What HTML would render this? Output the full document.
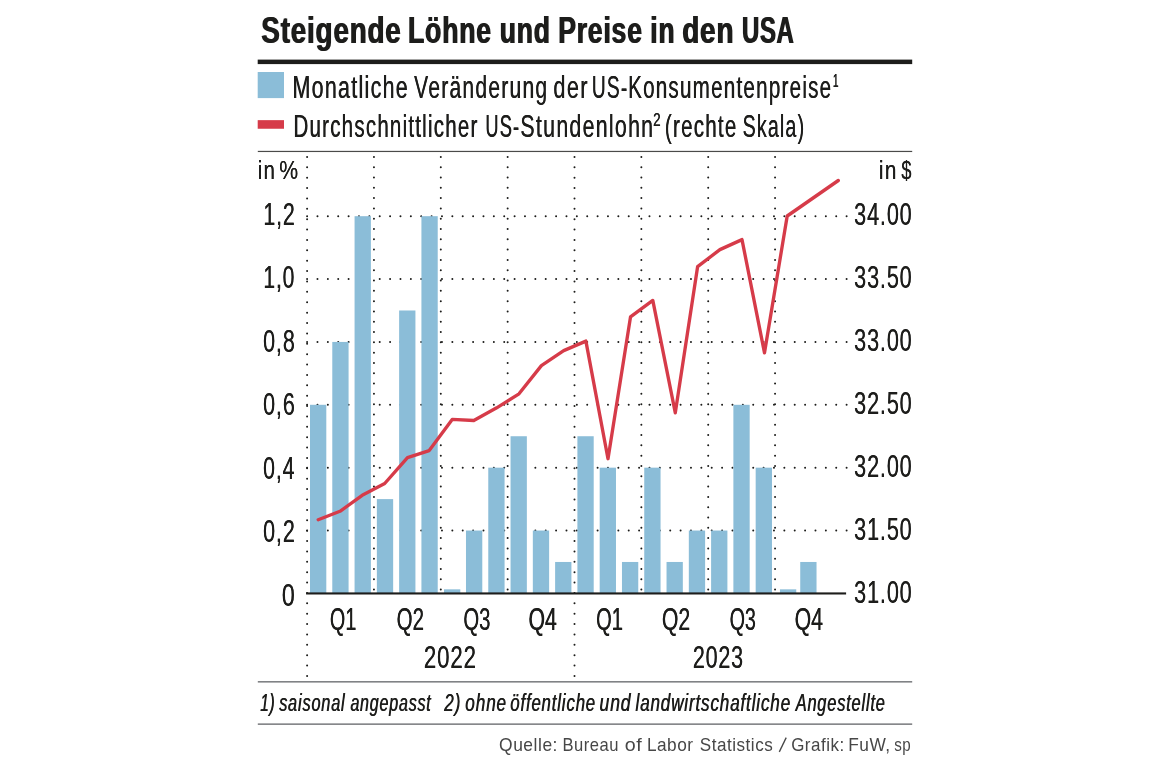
<!DOCTYPE html>
<html lang="de">
<head>
<meta charset="utf-8">
<title>Steigende Löhne und Preise in den USA</title>
<style>
html,body{margin:0;padding:0;background:#fff;}
body{width:1170px;height:759px;overflow:hidden;}
.layer{will-change:transform;width:1170px;height:759px;}
svg{display:block;font-family:"Liberation Sans",sans-serif;}
</style>
</head>
<body>
<div class="layer">
<svg width="1170" height="759" viewBox="0 0 1170 759" fill="#1d1d1b">
<text x="260.75" y="43.4" font-size="36.8" font-weight="bold" letter-spacing="0.03em" textLength="140.42" lengthAdjust="spacingAndGlyphs">Steigende</text><text aria-hidden="true" x="261.75" y="43.4" font-size="36.8" font-weight="bold" letter-spacing="0.03em" textLength="140.42" lengthAdjust="spacingAndGlyphs">Steigende</text>
<text x="407.55" y="43.4" font-size="36.8" font-weight="bold" letter-spacing="0.03em" textLength="83.93" lengthAdjust="spacingAndGlyphs">Löhne</text><text aria-hidden="true" x="408.55" y="43.4" font-size="36.8" font-weight="bold" letter-spacing="0.03em" textLength="83.93" lengthAdjust="spacingAndGlyphs">Löhne</text>
<text x="499.35" y="43.4" font-size="36.8" font-weight="bold" letter-spacing="0.03em" textLength="50.97" lengthAdjust="spacingAndGlyphs">und</text><text aria-hidden="true" x="500.35" y="43.4" font-size="36.8" font-weight="bold" letter-spacing="0.03em" textLength="50.97" lengthAdjust="spacingAndGlyphs">und</text>
<text x="557.65" y="43.4" font-size="36.8" font-weight="bold" letter-spacing="0.03em" textLength="84.59" lengthAdjust="spacingAndGlyphs">Preise</text><text aria-hidden="true" x="558.65" y="43.4" font-size="36.8" font-weight="bold" letter-spacing="0.03em" textLength="84.59" lengthAdjust="spacingAndGlyphs">Preise</text>
<text x="649.85" y="43.4" font-size="36.8" font-weight="bold" letter-spacing="0.03em" textLength="24.98" lengthAdjust="spacingAndGlyphs">in</text><text aria-hidden="true" x="650.85" y="43.4" font-size="36.8" font-weight="bold" letter-spacing="0.03em" textLength="24.98" lengthAdjust="spacingAndGlyphs">in</text>
<text x="681.65" y="43.4" font-size="36.8" font-weight="bold" letter-spacing="0.03em" textLength="52.28" lengthAdjust="spacingAndGlyphs">den</text><text aria-hidden="true" x="682.65" y="43.4" font-size="36.8" font-weight="bold" letter-spacing="0.03em" textLength="52.28" lengthAdjust="spacingAndGlyphs">den</text>
<text x="741.50" y="43.4" font-size="36.8" font-weight="bold" letter-spacing="0.03em" textLength="52.58" lengthAdjust="spacingAndGlyphs">USA</text><text aria-hidden="true" x="742.50" y="43.4" font-size="36.8" font-weight="bold" letter-spacing="0.03em" textLength="52.58" lengthAdjust="spacingAndGlyphs">USA</text>
<rect x="257.7" y="59.6" width="654.5" height="4.5" fill="#1d1d1b"/>
<rect x="257.7" y="72.0" width="26.3" height="26.1" fill="#8bbdd8"/>
<rect x="257.7" y="120.15" width="26.3" height="8.6" fill="#d63b49"/>
<text x="292.33" y="97.5" font-size="31.0" letter-spacing="0.06em" textLength="116.49" lengthAdjust="spacingAndGlyphs">Monatliche</text><text aria-hidden="true" x="292.67" y="97.5" font-size="31.0" letter-spacing="0.06em" textLength="116.49" lengthAdjust="spacingAndGlyphs">Monatliche</text>
<text x="414.03" y="97.5" font-size="31.0" letter-spacing="0.06em" textLength="134.19" lengthAdjust="spacingAndGlyphs">Veränderung</text><text aria-hidden="true" x="414.37" y="97.5" font-size="31.0" letter-spacing="0.06em" textLength="134.19" lengthAdjust="spacingAndGlyphs">Veränderung</text>
<text x="553.29" y="97.5" font-size="31.0" letter-spacing="0.06em" textLength="35.35" lengthAdjust="spacingAndGlyphs">der</text><text aria-hidden="true" x="553.62" y="97.5" font-size="31.0" letter-spacing="0.06em" textLength="35.35" lengthAdjust="spacingAndGlyphs">der</text>
<text x="591.79" y="97.5" font-size="31.0" letter-spacing="0.06em" textLength="36.42" lengthAdjust="spacingAndGlyphs">US-</text><text aria-hidden="true" x="592.12" y="97.5" font-size="31.0" letter-spacing="0.06em" textLength="36.42" lengthAdjust="spacingAndGlyphs">US-</text>
<text x="627.94" y="97.5" font-size="31.0" letter-spacing="0.06em" textLength="204.26" lengthAdjust="spacingAndGlyphs">Konsumentenpreise</text><text aria-hidden="true" x="628.26" y="97.5" font-size="31.0" letter-spacing="0.06em" textLength="204.26" lengthAdjust="spacingAndGlyphs">Konsumentenpreise</text>
<text x="832.80" y="86.8" font-size="18.6" textLength="5.71" lengthAdjust="spacingAndGlyphs">1</text><text aria-hidden="true" x="833.10" y="86.8" font-size="18.6" textLength="5.71" lengthAdjust="spacingAndGlyphs">1</text>
<text x="293.33" y="136.8" font-size="31.0" letter-spacing="0.06em" textLength="185.10" lengthAdjust="spacingAndGlyphs">Durchschnittlicher</text><text aria-hidden="true" x="293.67" y="136.8" font-size="31.0" letter-spacing="0.06em" textLength="185.10" lengthAdjust="spacingAndGlyphs">Durchschnittlicher</text>
<text x="485.28" y="136.8" font-size="31.0" letter-spacing="0.06em" textLength="34.72" lengthAdjust="spacingAndGlyphs">US-</text><text aria-hidden="true" x="485.62" y="136.8" font-size="31.0" letter-spacing="0.06em" textLength="34.72" lengthAdjust="spacingAndGlyphs">US-</text>
<text x="520.29" y="136.8" font-size="31.0" letter-spacing="0.06em" textLength="133.88" lengthAdjust="spacingAndGlyphs">Stundenlohn</text><text aria-hidden="true" x="520.62" y="136.8" font-size="31.0" letter-spacing="0.06em" textLength="133.88" lengthAdjust="spacingAndGlyphs">Stundenlohn</text>
<text x="664.74" y="136.8" font-size="31.0" letter-spacing="0.06em" textLength="72.71" lengthAdjust="spacingAndGlyphs">(rechte</text><text aria-hidden="true" x="665.06" y="136.8" font-size="31.0" letter-spacing="0.06em" textLength="72.71" lengthAdjust="spacingAndGlyphs">(rechte</text>
<text x="742.38" y="136.8" font-size="31.0" letter-spacing="0.06em" textLength="62.73" lengthAdjust="spacingAndGlyphs">Skala)</text><text aria-hidden="true" x="742.71" y="136.8" font-size="31.0" letter-spacing="0.06em" textLength="62.73" lengthAdjust="spacingAndGlyphs">Skala)</text>
<text x="652.95" y="126.2" font-size="18.6" textLength="7.51" lengthAdjust="spacingAndGlyphs">2</text><text aria-hidden="true" x="653.25" y="126.2" font-size="18.6" textLength="7.51" lengthAdjust="spacingAndGlyphs">2</text>
<rect x="257.8" y="150.85" width="654.4" height="1.2" fill="#4a4a49"/>
<line x1="307.1" y1="156.9" x2="307.1" y2="676.01" stroke="#1d1d1b" stroke-width="2" stroke-linecap="round" stroke-dasharray="0 10.3820"/>
<line x1="373.95" y1="156.9" x2="373.95" y2="589.61" stroke="#1d1d1b" stroke-width="2" stroke-linecap="round" stroke-dasharray="0 10.3024"/>
<line x1="440.8" y1="156.9" x2="440.8" y2="589.61" stroke="#1d1d1b" stroke-width="2" stroke-linecap="round" stroke-dasharray="0 10.3024"/>
<line x1="507.65" y1="156.9" x2="507.65" y2="589.61" stroke="#1d1d1b" stroke-width="2" stroke-linecap="round" stroke-dasharray="0 10.3024"/>
<line x1="574.5" y1="156.9" x2="574.5" y2="676.01" stroke="#1d1d1b" stroke-width="2" stroke-linecap="round" stroke-dasharray="0 10.3820"/>
<line x1="641.35" y1="156.9" x2="641.35" y2="589.61" stroke="#1d1d1b" stroke-width="2" stroke-linecap="round" stroke-dasharray="0 10.3024"/>
<line x1="708.2" y1="156.9" x2="708.2" y2="589.61" stroke="#1d1d1b" stroke-width="2" stroke-linecap="round" stroke-dasharray="0 10.3024"/>
<line x1="775.05" y1="156.9" x2="775.05" y2="589.61" stroke="#1d1d1b" stroke-width="2" stroke-linecap="round" stroke-dasharray="0 10.3024"/>
<line x1="307.1" y1="530.53" x2="846.61" y2="530.53" stroke="#1d1d1b" stroke-width="2" stroke-linecap="round" stroke-dasharray="0 10.3750"/>
<line x1="307.1" y1="467.66" x2="846.61" y2="467.66" stroke="#1d1d1b" stroke-width="2" stroke-linecap="round" stroke-dasharray="0 10.3750"/>
<line x1="307.1" y1="404.79" x2="846.61" y2="404.79" stroke="#1d1d1b" stroke-width="2" stroke-linecap="round" stroke-dasharray="0 10.3750"/>
<line x1="307.1" y1="341.92" x2="846.61" y2="341.92" stroke="#1d1d1b" stroke-width="2" stroke-linecap="round" stroke-dasharray="0 10.3750"/>
<line x1="307.1" y1="279.05" x2="846.61" y2="279.05" stroke="#1d1d1b" stroke-width="2" stroke-linecap="round" stroke-dasharray="0 10.3750"/>
<line x1="307.1" y1="216.18" x2="846.61" y2="216.18" stroke="#1d1d1b" stroke-width="2" stroke-linecap="round" stroke-dasharray="0 10.3750"/>
<rect x="310.00" y="404.79" width="16.3" height="188.61" fill="#8bbdd8"/>
<rect x="332.28" y="341.92" width="16.3" height="251.48" fill="#8bbdd8"/>
<rect x="354.57" y="216.18" width="16.3" height="377.22" fill="#8bbdd8"/>
<rect x="376.85" y="499.10" width="16.3" height="94.30" fill="#8bbdd8"/>
<rect x="399.13" y="310.49" width="16.3" height="282.91" fill="#8bbdd8"/>
<rect x="421.42" y="216.18" width="16.3" height="377.22" fill="#8bbdd8"/>
<rect x="444.00" y="589.34" width="16.3" height="4.06" fill="#8bbdd8"/>
<rect x="465.98" y="530.53" width="16.3" height="62.87" fill="#8bbdd8"/>
<rect x="488.27" y="467.66" width="16.3" height="125.74" fill="#8bbdd8"/>
<rect x="510.55" y="436.23" width="16.3" height="157.17" fill="#8bbdd8"/>
<rect x="532.83" y="530.53" width="16.3" height="62.87" fill="#8bbdd8"/>
<rect x="555.12" y="561.97" width="16.3" height="31.43" fill="#8bbdd8"/>
<rect x="577.40" y="436.23" width="16.3" height="157.17" fill="#8bbdd8"/>
<rect x="599.68" y="467.66" width="16.3" height="125.74" fill="#8bbdd8"/>
<rect x="621.97" y="561.97" width="16.3" height="31.43" fill="#8bbdd8"/>
<rect x="644.25" y="467.66" width="16.3" height="125.74" fill="#8bbdd8"/>
<rect x="666.53" y="561.97" width="16.3" height="31.43" fill="#8bbdd8"/>
<rect x="688.82" y="530.53" width="16.3" height="62.87" fill="#8bbdd8"/>
<rect x="711.10" y="530.53" width="16.3" height="62.87" fill="#8bbdd8"/>
<rect x="733.38" y="404.79" width="16.3" height="188.61" fill="#8bbdd8"/>
<rect x="755.67" y="467.66" width="16.3" height="125.74" fill="#8bbdd8"/>
<rect x="779.95" y="589.34" width="16.3" height="4.06" fill="#8bbdd8"/>
<rect x="800.23" y="561.97" width="16.3" height="31.43" fill="#8bbdd8"/>
<rect x="306.1" y="592.4" width="540" height="2.1" fill="#1d1d1b"/>
<polyline fill="none" stroke="#d63b49" stroke-width="3.35" stroke-linejoin="round" stroke-linecap="round" points="318.2,519.7 340.0,511.3 362.2,495.3 384.7,483.5 407.5,457.6 429.2,450.6 452.2,419.4 473.8,420.5 496.7,407.8 519.0,393.8 541.4,365.6 563.7,350.6 585.9,341.1 608.0,458.7 630.5,316.9 652.8,300.4 675.3,412.8 697.6,266.7 719.9,249.6 742.0,239.6 764.5,352.8 787.2,216.0 838.3,180.5"/>
<text x="257.65" y="178.5" font-size="25.6" letter-spacing="0.06em" textLength="18.40" lengthAdjust="spacingAndGlyphs">in</text><text aria-hidden="true" x="257.85" y="178.5" font-size="25.6" letter-spacing="0.06em" textLength="18.40" lengthAdjust="spacingAndGlyphs">in</text>
<text x="279.15" y="178.5" font-size="25.6" letter-spacing="0.06em" textLength="20.13" lengthAdjust="spacingAndGlyphs">%</text><text aria-hidden="true" x="279.35" y="178.5" font-size="25.6" letter-spacing="0.06em" textLength="20.13" lengthAdjust="spacingAndGlyphs">%</text>
<text x="878.85" y="178.5" font-size="25.6" letter-spacing="0.06em" textLength="18.59" lengthAdjust="spacingAndGlyphs">in</text><text aria-hidden="true" x="879.05" y="178.5" font-size="25.6" letter-spacing="0.06em" textLength="18.59" lengthAdjust="spacingAndGlyphs">in</text>
<text x="901.30" y="178.5" font-size="25.6" letter-spacing="0.06em" textLength="11.14" lengthAdjust="spacingAndGlyphs">$</text><text aria-hidden="true" x="901.50" y="178.5" font-size="25.6" letter-spacing="0.06em" textLength="11.14" lengthAdjust="spacingAndGlyphs">$</text>
<text x="263.25" y="225.0" font-size="31.2" letter-spacing="0.04em" textLength="32.34" lengthAdjust="spacingAndGlyphs">1,2</text><text aria-hidden="true" x="263.55" y="225.0" font-size="31.2" letter-spacing="0.04em" textLength="32.34" lengthAdjust="spacingAndGlyphs">1,2</text>
<text x="263.25" y="288.4" font-size="31.2" letter-spacing="0.04em" textLength="31.87" lengthAdjust="spacingAndGlyphs">1,0</text><text aria-hidden="true" x="263.55" y="288.4" font-size="31.2" letter-spacing="0.04em" textLength="31.87" lengthAdjust="spacingAndGlyphs">1,0</text>
<text x="263.00" y="351.8" font-size="31.2" letter-spacing="0.04em" textLength="32.49" lengthAdjust="spacingAndGlyphs">0,8</text><text aria-hidden="true" x="263.30" y="351.8" font-size="31.2" letter-spacing="0.04em" textLength="32.49" lengthAdjust="spacingAndGlyphs">0,8</text>
<text x="263.00" y="415.3" font-size="31.2" letter-spacing="0.04em" textLength="32.49" lengthAdjust="spacingAndGlyphs">0,6</text><text aria-hidden="true" x="263.30" y="415.3" font-size="31.2" letter-spacing="0.04em" textLength="32.49" lengthAdjust="spacingAndGlyphs">0,6</text>
<text x="263.00" y="478.7" font-size="31.2" letter-spacing="0.04em" textLength="32.12" lengthAdjust="spacingAndGlyphs">0,4</text><text aria-hidden="true" x="263.30" y="478.7" font-size="31.2" letter-spacing="0.04em" textLength="32.12" lengthAdjust="spacingAndGlyphs">0,4</text>
<text x="263.00" y="542.1" font-size="31.2" letter-spacing="0.04em" textLength="32.49" lengthAdjust="spacingAndGlyphs">0,2</text><text aria-hidden="true" x="263.30" y="542.1" font-size="31.2" letter-spacing="0.04em" textLength="32.49" lengthAdjust="spacingAndGlyphs">0,2</text>
<text x="281.80" y="605.5" font-size="31.2" letter-spacing="0.04em" textLength="13.78" lengthAdjust="spacingAndGlyphs">0</text><text aria-hidden="true" x="282.10" y="605.5" font-size="31.2" letter-spacing="0.04em" textLength="13.78" lengthAdjust="spacingAndGlyphs">0</text>
<text x="854.00" y="224.8" font-size="31.2" letter-spacing="0.04em" textLength="58.44" lengthAdjust="spacingAndGlyphs">34.00</text><text aria-hidden="true" x="854.30" y="224.8" font-size="31.2" letter-spacing="0.04em" textLength="58.44" lengthAdjust="spacingAndGlyphs">34.00</text>
<text x="854.00" y="287.8" font-size="31.2" letter-spacing="0.04em" textLength="58.44" lengthAdjust="spacingAndGlyphs">33.50</text><text aria-hidden="true" x="854.30" y="287.8" font-size="31.2" letter-spacing="0.04em" textLength="58.44" lengthAdjust="spacingAndGlyphs">33.50</text>
<text x="854.00" y="350.8" font-size="31.2" letter-spacing="0.04em" textLength="58.44" lengthAdjust="spacingAndGlyphs">33.00</text><text aria-hidden="true" x="854.30" y="350.8" font-size="31.2" letter-spacing="0.04em" textLength="58.44" lengthAdjust="spacingAndGlyphs">33.00</text>
<text x="854.00" y="413.8" font-size="31.2" letter-spacing="0.04em" textLength="58.44" lengthAdjust="spacingAndGlyphs">32.50</text><text aria-hidden="true" x="854.30" y="413.8" font-size="31.2" letter-spacing="0.04em" textLength="58.44" lengthAdjust="spacingAndGlyphs">32.50</text>
<text x="854.00" y="476.8" font-size="31.2" letter-spacing="0.04em" textLength="58.44" lengthAdjust="spacingAndGlyphs">32.00</text><text aria-hidden="true" x="854.30" y="476.8" font-size="31.2" letter-spacing="0.04em" textLength="58.44" lengthAdjust="spacingAndGlyphs">32.00</text>
<text x="854.00" y="539.8" font-size="31.2" letter-spacing="0.04em" textLength="58.44" lengthAdjust="spacingAndGlyphs">31.50</text><text aria-hidden="true" x="854.30" y="539.8" font-size="31.2" letter-spacing="0.04em" textLength="58.44" lengthAdjust="spacingAndGlyphs">31.50</text>
<text x="854.00" y="602.8" font-size="31.2" letter-spacing="0.04em" textLength="58.44" lengthAdjust="spacingAndGlyphs">31.00</text><text aria-hidden="true" x="854.30" y="602.8" font-size="31.2" letter-spacing="0.04em" textLength="58.44" lengthAdjust="spacingAndGlyphs">31.00</text>
<text x="329.80" y="629.6" font-size="31.2" textLength="26.35" lengthAdjust="spacingAndGlyphs">Q1</text><text aria-hidden="true" x="330.10" y="629.6" font-size="31.2" textLength="26.35" lengthAdjust="spacingAndGlyphs">Q1</text>
<text x="396.50" y="629.6" font-size="31.2" textLength="27.26" lengthAdjust="spacingAndGlyphs">Q2</text><text aria-hidden="true" x="396.80" y="629.6" font-size="31.2" textLength="27.26" lengthAdjust="spacingAndGlyphs">Q2</text>
<text x="463.20" y="629.6" font-size="31.2" textLength="27.10" lengthAdjust="spacingAndGlyphs">Q3</text><text aria-hidden="true" x="463.50" y="629.6" font-size="31.2" textLength="27.10" lengthAdjust="spacingAndGlyphs">Q3</text>
<text x="528.35" y="629.6" font-size="31.2" textLength="28.28" lengthAdjust="spacingAndGlyphs">Q4</text><text aria-hidden="true" x="528.65" y="629.6" font-size="31.2" textLength="28.28" lengthAdjust="spacingAndGlyphs">Q4</text>
<text x="596.00" y="629.6" font-size="31.2" textLength="26.73" lengthAdjust="spacingAndGlyphs">Q1</text><text aria-hidden="true" x="596.30" y="629.6" font-size="31.2" textLength="26.73" lengthAdjust="spacingAndGlyphs">Q1</text>
<text x="661.65" y="629.6" font-size="31.2" textLength="28.38" lengthAdjust="spacingAndGlyphs">Q2</text><text aria-hidden="true" x="661.95" y="629.6" font-size="31.2" textLength="28.38" lengthAdjust="spacingAndGlyphs">Q2</text>
<text x="729.40" y="629.6" font-size="31.2" textLength="26.35" lengthAdjust="spacingAndGlyphs">Q3</text><text aria-hidden="true" x="729.70" y="629.6" font-size="31.2" textLength="26.35" lengthAdjust="spacingAndGlyphs">Q3</text>
<text x="794.45" y="629.6" font-size="31.2" textLength="28.44" lengthAdjust="spacingAndGlyphs">Q4</text><text aria-hidden="true" x="794.75" y="629.6" font-size="31.2" textLength="28.44" lengthAdjust="spacingAndGlyphs">Q4</text>
<text x="423.75" y="668.4" font-size="31.2" letter-spacing="0.04em" textLength="52.94" lengthAdjust="spacingAndGlyphs">2022</text><text aria-hidden="true" x="424.05" y="668.4" font-size="31.2" letter-spacing="0.04em" textLength="52.94" lengthAdjust="spacingAndGlyphs">2022</text>
<text x="692.65" y="668.4" font-size="31.2" letter-spacing="0.04em" textLength="51.17" lengthAdjust="spacingAndGlyphs">2023</text><text aria-hidden="true" x="692.95" y="668.4" font-size="31.2" letter-spacing="0.04em" textLength="51.17" lengthAdjust="spacingAndGlyphs">2023</text>
<rect x="257.8" y="681.0" width="654.4" height="1.6" fill="#808285"/>
<text x="259.90" y="711.4" font-size="24.6" font-style="italic" letter-spacing="0.05em" textLength="15.33" lengthAdjust="spacingAndGlyphs">1)</text><text aria-hidden="true" x="260.40" y="711.4" font-size="24.6" font-style="italic" letter-spacing="0.05em" textLength="15.33" lengthAdjust="spacingAndGlyphs">1)</text>
<text x="278.90" y="711.4" font-size="24.6" font-style="italic" letter-spacing="0.05em" textLength="66.32" lengthAdjust="spacingAndGlyphs">saisonal</text><text aria-hidden="true" x="279.40" y="711.4" font-size="24.6" font-style="italic" letter-spacing="0.05em" textLength="66.32" lengthAdjust="spacingAndGlyphs">saisonal</text>
<text x="350.15" y="711.4" font-size="24.6" font-style="italic" letter-spacing="0.05em" textLength="81.11" lengthAdjust="spacingAndGlyphs">angepasst</text><text aria-hidden="true" x="350.65" y="711.4" font-size="24.6" font-style="italic" letter-spacing="0.05em" textLength="81.11" lengthAdjust="spacingAndGlyphs">angepasst</text>
<text x="444.10" y="711.4" font-size="24.6" font-style="italic" letter-spacing="0.05em" textLength="16.84" lengthAdjust="spacingAndGlyphs">2)</text><text aria-hidden="true" x="444.60" y="711.4" font-size="24.6" font-style="italic" letter-spacing="0.05em" textLength="16.84" lengthAdjust="spacingAndGlyphs">2)</text>
<text x="465.10" y="711.4" font-size="24.6" font-style="italic" letter-spacing="0.05em" textLength="41.57" lengthAdjust="spacingAndGlyphs">ohne</text><text aria-hidden="true" x="465.60" y="711.4" font-size="24.6" font-style="italic" letter-spacing="0.05em" textLength="41.57" lengthAdjust="spacingAndGlyphs">ohne</text>
<text x="510.00" y="711.4" font-size="24.6" font-style="italic" letter-spacing="0.05em" textLength="85.76" lengthAdjust="spacingAndGlyphs">öffentliche</text><text aria-hidden="true" x="510.50" y="711.4" font-size="24.6" font-style="italic" letter-spacing="0.05em" textLength="85.76" lengthAdjust="spacingAndGlyphs">öffentliche</text>
<text x="599.25" y="711.4" font-size="24.6" font-style="italic" letter-spacing="0.05em" textLength="31.93" lengthAdjust="spacingAndGlyphs">und</text><text aria-hidden="true" x="599.75" y="711.4" font-size="24.6" font-style="italic" letter-spacing="0.05em" textLength="31.93" lengthAdjust="spacingAndGlyphs">und</text>
<text x="635.25" y="711.4" font-size="24.6" font-style="italic" letter-spacing="0.05em" textLength="155.48" lengthAdjust="spacingAndGlyphs">landwirtschaftliche</text><text aria-hidden="true" x="635.75" y="711.4" font-size="24.6" font-style="italic" letter-spacing="0.05em" textLength="155.48" lengthAdjust="spacingAndGlyphs">landwirtschaftliche</text>
<text x="795.45" y="711.4" font-size="24.6" font-style="italic" letter-spacing="0.05em" textLength="90.01" lengthAdjust="spacingAndGlyphs">Angestellte</text><text aria-hidden="true" x="795.95" y="711.4" font-size="24.6" font-style="italic" letter-spacing="0.05em" textLength="90.01" lengthAdjust="spacingAndGlyphs">Angestellte</text>
<rect x="257.8" y="723.35" width="654.4" height="1.6" fill="#808285"/>
<text x="499.05" y="750.6" font-size="17.8" fill="#474747" letter-spacing="0.03em" textLength="58.92" lengthAdjust="spacingAndGlyphs">Quelle:</text>
<text x="562.55" y="750.6" font-size="17.8" fill="#474747" letter-spacing="0.03em" textLength="56.48" lengthAdjust="spacingAndGlyphs">Bureau</text>
<text x="624.85" y="750.6" font-size="17.8" fill="#474747" letter-spacing="0.03em" textLength="17.58" lengthAdjust="spacingAndGlyphs">of</text>
<text x="646.90" y="750.6" font-size="17.8" fill="#474747" letter-spacing="0.03em" textLength="46.68" lengthAdjust="spacingAndGlyphs">Labor</text>
<text x="699.85" y="750.6" font-size="17.8" fill="#474747" letter-spacing="0.03em" textLength="73.40" lengthAdjust="spacingAndGlyphs">Statistics</text>
<text x="791.15" y="750.6" font-size="17.8" fill="#474747" letter-spacing="0.03em" textLength="53.52" lengthAdjust="spacingAndGlyphs">Grafik:</text>
<text x="848.20" y="750.6" font-size="17.8" fill="#474747" letter-spacing="0.03em" textLength="42.50" lengthAdjust="spacingAndGlyphs">FuW,</text>
<text x="894.30" y="750.6" font-size="17.8" fill="#474747" letter-spacing="0.03em" textLength="16.94" lengthAdjust="spacingAndGlyphs">sp</text>
<line x1="779.3" y1="751.9" x2="786.2" y2="737.6" stroke="#474747" stroke-width="1.3"/>
</svg>
</div>
</body>
</html>
